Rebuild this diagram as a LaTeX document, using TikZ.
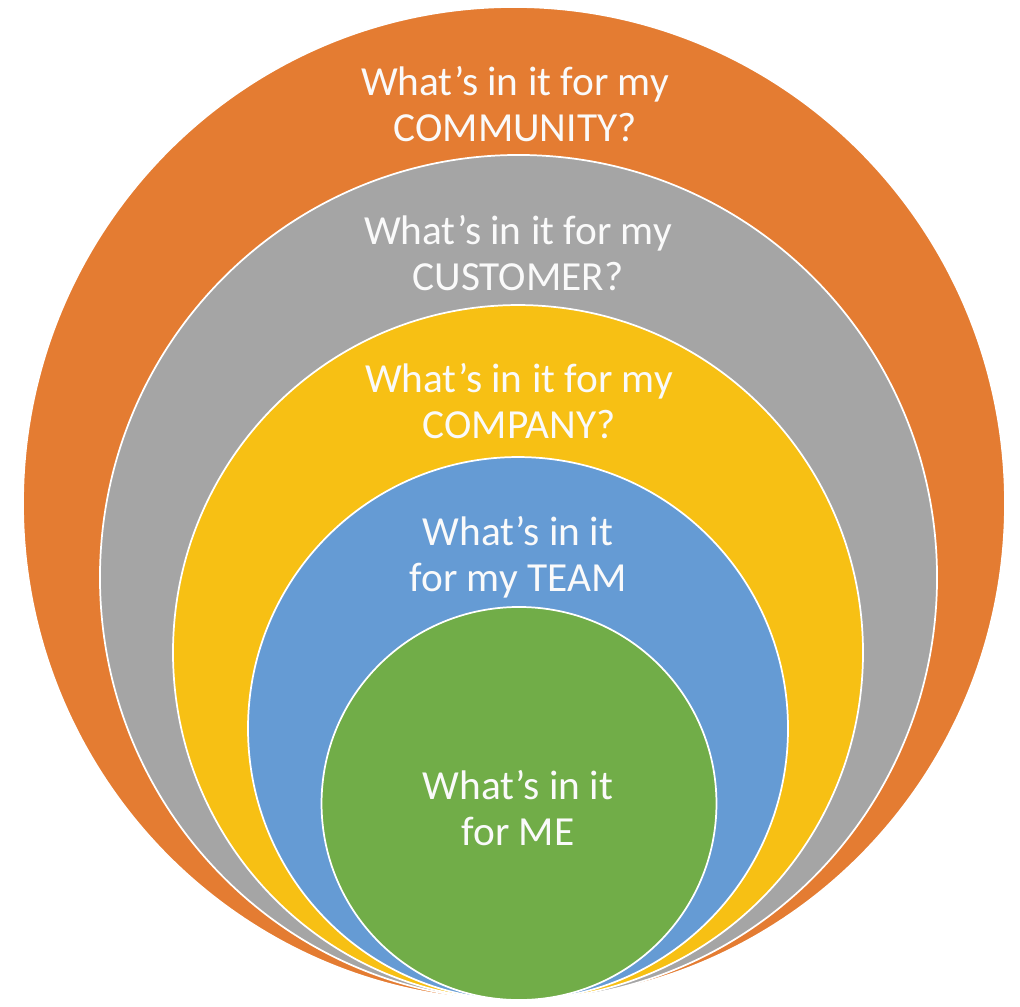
\documentclass[tikz,border=0pt]{standalone}
\usepackage{fontspec}
\setmainfont{Carlito}
\definecolor{cOrange}{HTML}{E47C32}
\definecolor{cGray}{HTML}{A5A5A5}
\definecolor{cYellow}{HTML}{F7C014}
\definecolor{cBlue}{HTML}{659BD4}
\definecolor{cGreen}{HTML}{71AD48}
\definecolor{cText}{HTML}{FAFAFA}
\tikzset{
  ring/.style={draw=white, line width=1.3pt},
  lbl/.style={text=cText, align=center, inner sep=0pt, anchor=center,
              font=\fontsize{31}{34.5}\selectfont}
}
\begin{document}
\begin{tikzpicture}[x=0.75pt,y=-0.75pt]
\useasboundingbox[fill=white] (0,0) rectangle (1020,1006);
% nested circles, all touching at the bottom
\path[ring, fill=cOrange] (514,503.5) ellipse [x radius=368.25pt, y radius=372.4pt];
\path[ring, fill=cGray]   (518.5,577.5) ellipse [x radius=313.9pt, y radius=316.9pt];
\path[ring, fill=cYellow] (518,652.5) ellipse [x radius=258.75pt, y radius=260.6pt];
\path[ring, fill=cBlue]   (518,728.5) ellipse [x radius=202.5pt, y radius=203.6pt];
\path[ring, fill=cGreen]  (519,803.5) ellipse [x radius=148.1pt, y radius=147.4pt];
% labels
\node[lbl] (community) at (515,104) {What’s in it for my\\COMMUNITY?};
\node[lbl] (customer)  at (518,253) {What’s in it for my\\CUSTOMER?};
\node[lbl] (company)   at (519,401) {What’s in it for my\\COMPANY?};
\node[lbl] (team)      at (518,557) {What’s in it\\for my TEAM};
\node[lbl] (me)        at (518,808) {What’s in it\\for ME};
\end{tikzpicture}
\end{document}
